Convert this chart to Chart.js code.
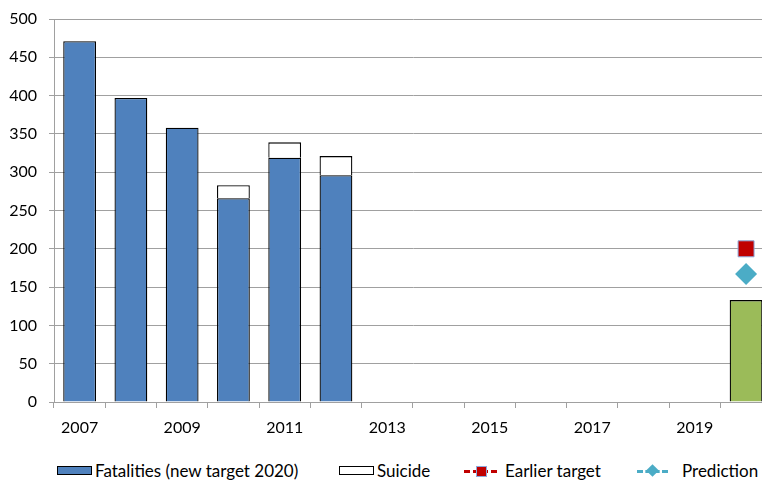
<!DOCTYPE html>
<html>
<head>
<meta charset="utf-8">
<script src="https://cdn.jsdelivr.net/npm/chart.js@4.4.1/dist/chart.umd.min.js"></script>
<style>
  html, body { margin: 0; padding: 0; background: #fff; overflow: hidden; width: 762px; height: 481px; }
  #chart { position: absolute; left: 0; top: 0; }
  #legend { position: absolute; left: 0; top: 460px; width: 762px; height: 20px; font-family: Lato, sans-serif; font-size: 17px; color: #000; }
  .item { position: absolute; top: 0; height: 20px; display: flex; align-items: center; white-space: nowrap; }
  .box { display: inline-block; width: 33px; height: 7px; border: 1px solid #000; }
  .dash { position: relative; display: inline-block; height: 20px; }
  .dash::before { content: ""; position: absolute; left: 0; right: 0; top: 10px; border-top: 3px dashed var(--c); }
  .mk { position: absolute; top: 50%; left: 50%; }
</style>
</head>
<body>
<canvas id="chart" width="784" height="445"></canvas>
<div id="legend">
  <div class="item" style="left:57px"><span class="box" style="background:#4F81BD"></span><span style="margin-left:3px">Fatalities (new target 2020)</span></div>
  <div class="item" style="left:339px"><span class="box" style="background:#fff"></span><span style="margin-left:3px">Suicide</span></div>
  <div class="item" style="left:464px"><span class="dash" style="width:33px;--c:#C00000"><span class="mk" style="width:9px;height:9px;margin:-4px 0 0 -5px;background:#C00000;border:1px solid #8EA9DB"></span></span><span style="margin-left:8px">Earlier target</span></div>
  <div class="item" style="left:637px"><span class="dash" style="width:31px;--c:#4BACC6"><span class="mk" style="width:9px;height:9px;margin:-4px 0 0 -5px;background:#4BACC6;transform:rotate(45deg)"></span></span><span style="margin-left:14px">Prediction</span></div>
</div>
<script>
  // ---- Data ----
  const years = ["2007", "2008", "2009", "2010", "2011", "2012", "2013", "2014", "2015", "2016", "2017", "2018", "2019", "2020"];
  const shownYears = ["2007", "2009", "2011", "2013", "2015", "2017", "2019"];
  const fatalities = [471, 397, 358, 266, 319, 296, null, null, null, null, null, null, null, 133];
  const suicide = [null, null, null, 17, 20, 25, null, null, null, null, null, null, null, null];
  const earlierTarget = [null, null, null, null, null, null, null, null, null, null, null, null, null, 200];
  const prediction = [null, null, null, null, null, null, null, null, null, null, null, null, null, 167];
  const yMax = 500;
  const yStep = 50;

  const BLUE = "#4F81BD";
  const GREEN = "#9BBB59";
  const GRID = "#A0A0A0";
  const font = { family: "Lato", size: 16 };

  // 2020 bar is the target, drawn green
  const fatalityColors = years.map((y) => (y === "2020" ? GREEN : BLUE));

  // keep the plot box fixed: no extra label padding from the scales
  const noPad = (s) => { s.paddingLeft = 0; s.paddingRight = 0; s.paddingTop = 0; s.paddingBottom = 0; };

  new Chart(document.getElementById("chart"), {
    data: {
      labels: years,
      datasets: [
        {
          type: "bar",
          label: "Fatalities (new target 2020)",
          data: fatalities,
          backgroundColor: fatalityColors,
          borderColor: "#000",
          borderWidth: 1.3,
          barPercentage: 0.64,
          categoryPercentage: 1,
        },
        {
          type: "bar",
          label: "Suicide",
          data: suicide,
          backgroundColor: "#fff",
          borderColor: "#000",
          borderWidth: 1.3,
          barPercentage: 0.64,
          categoryPercentage: 1,
        },
        {
          type: "line",
          label: "Earlier target",
          data: earlierTarget,
          stack: "target",
          borderColor: "#C00000",
          borderDash: [6, 4],
          pointStyle: "rect",
          pointRadius: 11.3,
          pointBackgroundColor: "#C00000",
          pointBorderColor: "#8EA9DB",
          pointBorderWidth: 1,
        },
        {
          type: "line",
          label: "Prediction",
          data: prediction,
          stack: "pred",
          borderColor: "#4BACC6",
          borderDash: [6, 4],
          pointStyle: "rectRot",
          pointRadius: 11,
          pointBackgroundColor: "#4BACC6",
          pointBorderColor: "#4BACC6",
          pointBorderWidth: 0,
        },
      ],
    },
    options: {
      responsive: false,
      animation: false,
      layout: { padding: { top: 19, left: 0, right: 0, bottom: 0 } },
      plugins: { legend: { display: false }, tooltip: { enabled: false } },
      scales: {
        x: {
          stacked: true,
          offset: true,
          grid: { offset: true, drawOnChartArea: false, drawTicks: true, tickLength: 6, color: GRID },
          border: { color: GRID },
          ticks: {
            autoSkip: false,
            maxRotation: 0,
            padding: 10,
            color: "#000",
            font,
            callback: (v, i) => (shownYears.includes(years[i]) ? years[i] : ""),
          },
          afterFit: (s) => { s.height = 43; noPad(s); },
        },
        y: {
          stacked: true,
          min: 0,
          max: yMax,
          grid: { color: GRID, tickLength: 5 },
          border: { color: GRID },
          ticks: { stepSize: yStep, padding: 12, color: "#000", font },
          afterFit: (s) => { s.width = 54; noPad(s); },
        },
      },
    },
  });
</script>
</body>
</html>
